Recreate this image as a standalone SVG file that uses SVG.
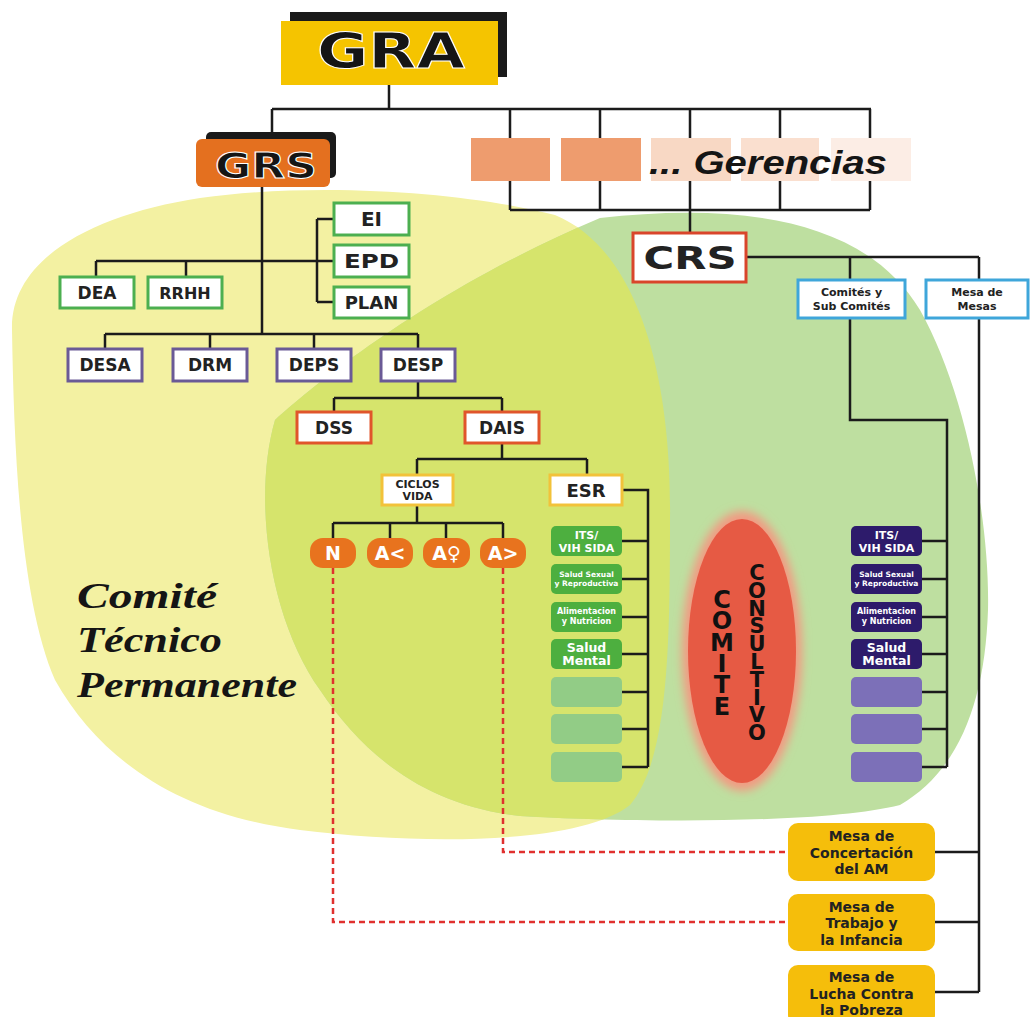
<svg xmlns="http://www.w3.org/2000/svg" width="1030" height="1017" viewBox="0 0 1030 1017">
<defs>
<style>
.ln{stroke:#1b1b1b;stroke-width:2.5;fill:none}
.dash{stroke:#E0302E;stroke-width:2.5;stroke-dasharray:6 4;fill:none}
.box{fill:#fff;stroke-width:3}
.g{stroke:#4CAF50}
.p{stroke:#6A5A96}
.r{stroke:#E0552B}
.y{stroke:#F2C23A}
.b{stroke:#3FA6DA}
.t{font-family:"DejaVu Sans","Verdana",sans-serif;font-weight:bold;fill:#222;text-anchor:middle}
.w{fill:#fff}
.gb{fill:#4DAF3F}
.gl{fill:#92CC86}
.pb{fill:#2D1B6B}
.pl{fill:#7C70B8}
.pill{fill:#E8731E}
.mesa{fill:#F5BE0B}
.big{font-family:"DejaVu Sans","Verdana",sans-serif;font-weight:bold;fill:#151515;stroke:#fff;stroke-width:1}
.vert{font-family:"DejaVu Sans","Verdana",sans-serif;font-weight:bold;fill:#111;writing-mode:vertical-rl;text-orientation:upright}
</style>
<clipPath id="yc"><path d="M 12,330 C 10,260 90,215 200,198 C 330,180 480,195 555,215 C 640,250 672,380 670,520 C 670,650 668,760 630,805 C 580,845 420,845 300,830 C 180,815 100,760 55,680 C 20,600 14,450 12,330 Z"/></clipPath>
<filter id="blur" x="-30%" y="-30%" width="160%" height="160%"><feGaussianBlur stdDeviation="5"/></filter>
</defs>
<rect width="1030" height="1017" fill="#fff"/>

<g id="background">
<path fill="#F3F1A2" d="M 12,330 C 10,260 90,215 200,198 C 330,180 480,195 555,215 C 640,250 672,380 670,520 C 670,650 668,760 630,805 C 580,845 420,845 300,830 C 180,815 100,760 55,680 C 20,600 14,450 12,330 Z"/>
<path fill="#BEDFA0" d="M 275,420 C 320,380 430,290 600,218 C 720,205 860,210 920,310 C 965,390 990,520 988,610 C 985,700 960,770 900,805 C 820,825 620,822 520,816 C 420,805 360,750 320,690 C 270,620 252,500 275,420 Z"/>
<path fill="#D6E46C" clip-path="url(#yc)" d="M 275,420 C 320,380 430,290 600,218 C 720,205 860,210 920,310 C 965,390 990,520 988,610 C 985,700 960,770 900,805 C 820,825 620,822 520,816 C 420,805 360,750 320,690 C 270,620 252,500 275,420 Z"/>
</g>

<g id="label-comite-tecnico" font-family="'Liberation Serif','Times New Roman',serif" font-weight="bold" font-style="italic" font-size="36" fill="#151515">
<text x="77" y="608" textLength="140" lengthAdjust="spacingAndGlyphs">Comité</text>
<text x="77" y="652" textLength="145" lengthAdjust="spacingAndGlyphs">Técnico</text>
<text x="77" y="697" textLength="220" lengthAdjust="spacingAndGlyphs">Permanente</text>
</g>

<g id="connectors">
<path class="ln" d="M389,85 V109 M272,109 H871 M272,109 V132 M510,109 V138 M600,109 V138 M690,109 V138 M780,109 V138 M870,109 V138"/>
<path class="ln" d="M510,181 V210 M600,181 V210 M690,181 V233 M780,181 V210 M870,181 V210 M510,210 H870"/>
<path class="ln" d="M262,187 V334 M96,261 H334 M96,261 V277 M186,261 V277 M317,219 V302 M317,219 H334 M317,302 H334"/>
<path class="ln" d="M105,334 H418 M105,334 V349 M210,334 V349 M314,334 V349 M418,334 V349"/>
<path class="ln" d="M418,381 V398 M334,398 H502 M334,398 V412 M502,398 V412"/>
<path class="ln" d="M502,443 V459 M417,459 H587 M417,459 V475 M587,459 V475"/>
<path class="ln" d="M417,505 V523 M333,523 H503 M333,523 V538 M390,523 V538 M446,523 V538 M503,523 V538"/>
<path class="ln" d="M622,490 H648 V767 M622,541 H648 M622,579 H648 M622,617 H648 M622,654 H648 M622,692 H648 M622,729 H648 M622,767 H648"/>
<path class="ln" d="M746,257 H979 M850,257 V280 M979,257 V280"/>
<path class="ln" d="M850,318 V420 H947 V767 M922,541 H947 M922,579 H947 M922,617 H947 M922,654 H947 M922,692 H947 M922,729 H947 M922,767 H947"/>
<path class="ln" d="M979,318 V992 M935,852 H979 M935,922 H979 M935,992 H979"/>
<path class="dash" d="M503,568 V852 H788"/>
<path class="dash" d="M333,568 V922 H788"/>
</g>

<g id="node-GRA">
<rect x="290" y="12" width="217" height="65" fill="#1a1a1a"/>
<rect x="281" y="21" width="217" height="64" fill="#F5C400"/>
<text class="big" x="391" y="68" font-size="50" text-anchor="middle" textLength="148" lengthAdjust="spacingAndGlyphs" stroke-width="1.5">GRA</text>
</g>

<g id="node-GRS">
<rect x="206" y="132" width="130" height="46" rx="5" fill="#1a1a1a"/>
<rect x="196" y="139" width="134" height="48" rx="6" fill="#E4701F"/>
<text class="big" x="266" y="178" font-size="35" text-anchor="middle" textLength="102" lengthAdjust="spacingAndGlyphs">GRS</text>
</g>

<g id="node-gerencias">
<rect x="471" y="138" width="79" height="43" fill="#EE9C6E"/>
<rect x="561" y="138" width="80" height="43" fill="#EE9C6E"/>
<rect x="651" y="138" width="80" height="43" fill="#F8D8C4"/>
<rect x="741" y="138" width="78" height="43" fill="#FADFCF"/>
<rect x="831" y="138" width="80" height="43" fill="#FCEDE5"/>
<text x="649" y="174" font-family="'Liberation Sans','Arial',sans-serif" font-weight="bold" font-style="italic" font-size="33" fill="#151515" textLength="238" lengthAdjust="spacingAndGlyphs">... Gerencias</text>
</g>

<g id="node-EI"><rect class="box g" x="334" y="203" width="75" height="32"/><text class="t" x="371.5" y="226" font-size="20">EI</text></g>
<g id="node-EPD"><rect class="box g" x="334" y="245" width="75" height="32"/><text class="t" x="371.5" y="268" font-size="20" textLength="55" lengthAdjust="spacingAndGlyphs">EPD</text></g>
<g id="node-PLAN"><rect class="box g" x="334" y="287" width="75" height="31"/><text class="t" x="371.5" y="309" font-size="18">PLAN</text></g>
<g id="node-DEA"><rect class="box g" x="60" y="277" width="74" height="31"/><text class="t" x="97" y="299" font-size="17">DEA</text></g>
<g id="node-RRHH"><rect class="box g" x="148" y="277" width="74" height="31"/><text class="t" x="185" y="299" font-size="16">RRHH</text></g>

<g id="node-DESA"><rect class="box p" x="68" y="349" width="74" height="32"/><text class="t" x="105" y="371" font-size="17">DESA</text></g>
<g id="node-DRM"><rect class="box p" x="173" y="349" width="74" height="32"/><text class="t" x="210" y="371" font-size="17">DRM</text></g>
<g id="node-DEPS"><rect class="box p" x="277" y="349" width="74" height="32"/><text class="t" x="314" y="371" font-size="17">DEPS</text></g>
<g id="node-DESP"><rect class="box p" x="381" y="349" width="74" height="32"/><text class="t" x="418" y="371" font-size="17">DESP</text></g>

<g id="node-DSS"><rect class="box r" x="297" y="412" width="74" height="31"/><text class="t" x="334" y="434" font-size="17">DSS</text></g>
<g id="node-DAIS"><rect class="box r" x="465" y="412" width="74" height="31"/><text class="t" x="502" y="434" font-size="17">DAIS</text></g>

<g id="node-CICLOS-VIDA"><rect class="box y" x="382" y="475" width="71" height="30"/><text class="t" font-size="11"><tspan x="417.5" y="488">CICLOS</tspan><tspan x="417.5" y="500">VIDA</tspan></text></g>
<g id="node-ESR"><rect class="box y" x="550" y="475" width="72" height="30"/><text class="t" x="586" y="497" font-size="18">ESR</text></g>

<g id="node-N"><rect class="pill" x="310" y="538" width="46" height="30" rx="13"/><text class="t w" x="333" y="560" font-size="19">N</text></g>
<g id="node-A-menor"><rect class="pill" x="367" y="538" width="46" height="30" rx="13"/><text class="t w" x="390" y="560" font-size="19">A&lt;</text></g>
<g id="node-A-mujer"><rect class="pill" x="423" y="538" width="47" height="30" rx="13"/><text class="t w" x="446.5" y="560" font-size="19">A♀</text></g>
<g id="node-A-mayor"><rect class="pill" x="480" y="538" width="46" height="30" rx="13"/><text class="t w" x="503" y="560" font-size="19">A&gt;</text></g>

<g id="node-esr-its"><rect class="gb" x="551" y="526" width="71" height="30" rx="5"/><text class="t w" font-size="11"><tspan x="586.5" y="539">ITS/</tspan><tspan x="586.5" y="552">VIH SIDA</tspan></text></g>
<g id="node-esr-ssr"><rect class="gb" x="551" y="564" width="71" height="30" rx="5"/><text class="t w" font-size="7.5"><tspan x="586.5" y="577">Salud Sexual</tspan><tspan x="586.5" y="586">y Reproductiva</tspan></text></g>
<g id="node-esr-an"><rect class="gb" x="551" y="602" width="71" height="30" rx="5"/><text class="t w" font-size="8"><tspan x="586.5" y="614">Alimentacion</tspan><tspan x="586.5" y="624">y Nutricion</tspan></text></g>
<g id="node-esr-sm"><rect class="gb" x="551" y="639" width="71" height="30" rx="5"/><text class="t w" font-size="12.5"><tspan x="586.5" y="652">Salud</tspan><tspan x="586.5" y="665">Mental</tspan></text></g>
<g id="node-esr-e1"><rect class="gl" x="551" y="677" width="71" height="30" rx="5"/></g>
<g id="node-esr-e2"><rect class="gl" x="551" y="714" width="71" height="30" rx="5"/></g>
<g id="node-esr-e3"><rect class="gl" x="551" y="752" width="71" height="30" rx="5"/></g>

<g id="node-crs-its"><rect class="pb" x="851" y="526" width="71" height="30" rx="5"/><text class="t w" font-size="11"><tspan x="886.5" y="539">ITS/</tspan><tspan x="886.5" y="552">VIH SIDA</tspan></text></g>
<g id="node-crs-ssr"><rect class="pb" x="851" y="564" width="71" height="30" rx="5"/><text class="t w" font-size="7.5"><tspan x="886.5" y="577">Salud Sexual</tspan><tspan x="886.5" y="586">y Reproductiva</tspan></text></g>
<g id="node-crs-an"><rect class="pb" x="851" y="602" width="71" height="30" rx="5"/><text class="t w" font-size="8"><tspan x="886.5" y="614">Alimentacion</tspan><tspan x="886.5" y="624">y Nutricion</tspan></text></g>
<g id="node-crs-sm"><rect class="pb" x="851" y="639" width="71" height="30" rx="5"/><text class="t w" font-size="12.5"><tspan x="886.5" y="652">Salud</tspan><tspan x="886.5" y="665">Mental</tspan></text></g>
<g id="node-crs-e1"><rect class="pl" x="851" y="677" width="71" height="30" rx="5"/></g>
<g id="node-crs-e2"><rect class="pl" x="851" y="714" width="71" height="30" rx="5"/></g>
<g id="node-crs-e3"><rect class="pl" x="851" y="752" width="71" height="30" rx="5"/></g>

<g id="node-CRS"><rect class="box" x="633" y="233" width="113" height="49" stroke="#D9452B" stroke-width="4"/><text class="t" x="690" y="269" font-size="32" fill="#151515" textLength="93" lengthAdjust="spacingAndGlyphs">CRS</text></g>
<g id="node-comites"><rect class="box b" x="798" y="280" width="107" height="38"/><text class="t" font-size="11"><tspan x="851.5" y="296">Comités y</tspan><tspan x="851.5" y="310">Sub Comités</tspan></text></g>
<g id="node-mesa-de-mesas"><rect class="box b" x="926" y="280" width="102" height="38"/><text class="t" font-size="11"><tspan x="977" y="296">Mesa de</tspan><tspan x="977" y="310">Mesas</tspan></text></g>

<g id="node-comite-consultivo">
<ellipse cx="742" cy="651" rx="60" ry="140" fill="#F29A82" filter="url(#blur)"/>
<ellipse cx="742" cy="651" rx="54" ry="132" fill="#E65A44"/>
<text class="vert" x="722" y="586" font-size="24" letter-spacing="-6.7">COMITE</text>
<text class="vert" x="757" y="561" font-size="21" letter-spacing="-6.2">CONSULTIVO</text>
</g>

<g id="node-mesa-concertacion"><rect class="mesa" x="788" y="823" width="147" height="58" rx="10"/><text class="t" font-size="14"><tspan x="861.5" y="841">Mesa de</tspan><tspan x="861.5" y="857.5">Concertación</tspan><tspan x="861.5" y="874">del AM</tspan></text></g>
<g id="node-mesa-trabajo"><rect class="mesa" x="788" y="894" width="147" height="57" rx="10"/><text class="t" font-size="14"><tspan x="861.5" y="911.5">Mesa de</tspan><tspan x="861.5" y="928">Trabajo y</tspan><tspan x="861.5" y="944.5">la Infancia</tspan></text></g>
<g id="node-mesa-pobreza"><rect class="mesa" x="788" y="965" width="147" height="60" rx="10"/><text class="t" font-size="14"><tspan x="861.5" y="982">Mesa de</tspan><tspan x="861.5" y="998.5">Lucha Contra</tspan><tspan x="861.5" y="1015">la Pobreza</tspan></text></g>
</svg>
